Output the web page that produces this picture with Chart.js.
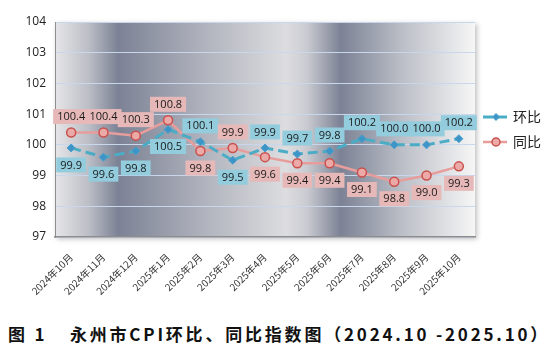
<!DOCTYPE html>
<html>
<head>
<meta charset="utf-8">
<script src="https://cdn.jsdelivr.net/npm/chart.js"></script>
<style>
  body { margin: 0; background: #fff; }
  #wrap { position: relative; width: 552px; height: 300px; }
  #caption {
    position: absolute; left: 8px; top: 321px; width: 544px;
    font-family: "Noto Sans CJK SC", sans-serif; font-size: 17px; font-weight: bold;
    letter-spacing: 2.8px; color: #111; white-space: nowrap;
  }
</style>
</head>
<body>
<div id="wrap"><canvas id="cpiChart" width="552" height="300"></canvas></div>
<div id="caption">图 1&ensp;&ensp;永州市CPI环比、同比指数图（2024.10 -2025.10）</div>
<script>
const months = ["2024年10月", "2024年11月", "2024年12月", "2025年1月", "2025年2月", "2025年3月",
  "2025年4月", "2025年5月", "2025年6月", "2025年7月", "2025年8月", "2025年9月", "2025年10月"];
const huanbi = [99.9, 99.6, 99.8, 100.5, 100.1, 99.5, 99.9, 99.7, 99.8, 100.2, 100.0, 100.0, 100.2];
const tongbi = [100.4, 100.4, 100.3, 100.8, 99.8, 99.9, 99.6, 99.4, 99.4, 99.1, 98.8, 99.0, 99.3];
const yTicks = [97, 98, 99, 100, 101, 102, 103, 104];

// where each value label sits relative to its point
const huanbiLabelSide = ["below", "below", "below", "below", "above", "below", "above",
  "above", "above", "above", "above", "above", "above"];
const tongbiLabelSide = ["above", "above", "above", "above", "below", "above", "below",
  "below", "below", "below", "below", "below", "below"];

const labelBoxColors = ["#93cddd", "#e6b9b8"];
const labelSides = [huanbiLabelSide, tongbiLabelSide];

// shaded plot background, like the office chart style
const plotBackground = {
  id: "plotBackground",
  beforeDraw(chart) {
    const { ctx, chartArea: a } = chart;
    ctx.save();
    ctx.shadowColor = "rgba(0,0,0,0.25)";
    ctx.shadowBlur = 5;
    ctx.shadowOffsetX = 2;
    ctx.shadowOffsetY = 2;
    const g = ctx.createLinearGradient(a.left, 0, a.right, 0);
    g.addColorStop(0, "#e6e6e8");
    g.addColorStop(0.08, "#bcbec6");
    g.addColorStop(0.15, "#7c8295");
    g.addColorStop(0.35, "#afb2bc");
    g.addColorStop(0.55, "#dddde0");
    g.addColorStop(0.6, "#cacbd1");
    g.addColorStop(0.68, "#7c8295");
    g.addColorStop(0.83, "#bdc0c8");
    g.addColorStop(1, "#f6f6f6");
    ctx.fillStyle = g;
    ctx.fillRect(a.left, a.top, a.right - a.left, a.bottom - a.top);
    ctx.restore();
  },
};

// boxed value labels
const valueLabels = {
  id: "valueLabels",
  afterDatasetsDraw(chart) {
    const ctx = chart.ctx;
    ctx.save();
    ctx.font = "11px 'Open Sans', sans-serif";
    ctx.textAlign = "center";
    ctx.textBaseline = "middle";
    chart.data.datasets.forEach((ds, di) => {
      const meta = chart.getDatasetMeta(di);
      meta.data.forEach((pt, i) => {
        const txt = ds.data[i].toFixed(1);
        const w = ctx.measureText(txt).width + 8;
        const h = 15;
        const cy = labelSides[di][i] === "above" ? pt.y - 16 : pt.y + 17;
        ctx.fillStyle = labelBoxColors[di];
        ctx.fillRect(pt.x - w / 2, cy - h / 2, w, h);
        ctx.fillStyle = "#1a1a1a";
        ctx.fillText(txt, pt.x, cy + 0.5);
      });
    });
    ctx.restore();
  },
};

// legend at the right: line sample with marker
const sideLegend = {
  id: "sideLegend",
  afterDraw(chart) {
    const ctx = chart.ctx;
    const x0 = 483, rows = [117, 142];
    ctx.save();
    chart.data.datasets.forEach((ds, di) => {
      const y = rows[di];
      const mx = x0 + 13;
      ctx.strokeStyle = ds.borderColor;
      ctx.lineWidth = ds.borderWidth;
      ctx.setLineDash(ds.borderDash || []);
      ctx.beginPath();
      ctx.moveTo(x0, y);
      ctx.lineTo(x0 + 24, y);
      ctx.stroke();
      ctx.setLineDash([]);
      ctx.fillStyle = ds.pointBackgroundColor;
      ctx.strokeStyle = ds.pointBorderColor;
      ctx.lineWidth = ds.pointBorderWidth;
      ctx.beginPath();
      const r = ds.pointRadius - 0.5;
      if (ds.pointStyle === "circle") {
        ctx.arc(mx, y, r, 0, Math.PI * 2);
      } else {
        ctx.moveTo(mx, y - r); ctx.lineTo(mx + r, y);
        ctx.lineTo(mx, y + r); ctx.lineTo(mx - r, y); ctx.closePath();
      }
      ctx.fill();
      ctx.stroke();
      ctx.fillStyle = "#222";
      ctx.font = "14px 'Noto Sans CJK SC', sans-serif";
      ctx.textBaseline = "middle";
      ctx.fillText(ds.label, x0 + 30, y);
    });
    ctx.restore();
  },
};

new Chart(document.getElementById("cpiChart"), {
  type: "line",
  data: {
    labels: months,
    datasets: [
      {
        label: "环比",
        data: huanbi,
        borderColor: "#4bacc6",
        borderWidth: 3,
        borderDash: [10, 5],
        pointStyle: "rectRot",
        pointRadius: 4,
        pointBackgroundColor: "#3d94c6",
        pointBorderColor: "#4a9fcc",
        pointBorderWidth: 1,
        tension: 0,
      },
      {
        label: "同比",
        data: tongbi,
        borderColor: "#e69d9b",
        borderWidth: 2.5,
        pointStyle: "circle",
        pointRadius: 4.5,
        pointBackgroundColor: "#eba9a7",
        pointBorderColor: "#c9504d",
        pointBorderWidth: 1.5,
        tension: 0,
      },
    ],
  },
  options: {
    animation: false,
    responsive: false,
    layout: { padding: { top: 22, right: 77, left: 0, bottom: 0 } },
    plugins: { legend: { display: false }, tooltip: { enabled: false } },
    scales: {
      x: {
        offset: true,
        grid: { display: false },
        border: { color: "#8e8e8e", width: 1.5 },
        ticks: {
          autoSkip: false,
          minRotation: 45,
          maxRotation: 45,
          padding: 6,
          color: "#333",
          font: { family: "'Noto Sans CJK SC', sans-serif", size: 10 },
        },
        afterFit(s) { s.height = 63; },
      },
      y: {
        min: 97,
        max: 104,
        afterBuildTicks(s) { s.ticks = yTicks.map((v) => ({ value: v })); },
        grid: { color: "#c8d7ec", lineWidth: 1, drawTicks: false },
        border: { color: "#8e8e8e", width: 1 },
        ticks: {
          padding: 9,
          color: "#222",
          font: { family: "'Open Sans', sans-serif", size: 12 },
        },
        afterFit(s) { s.width = 55; },
      },
    },
  },
  plugins: [plotBackground, valueLabels, sideLegend],
});
</script>
</body>
</html>
